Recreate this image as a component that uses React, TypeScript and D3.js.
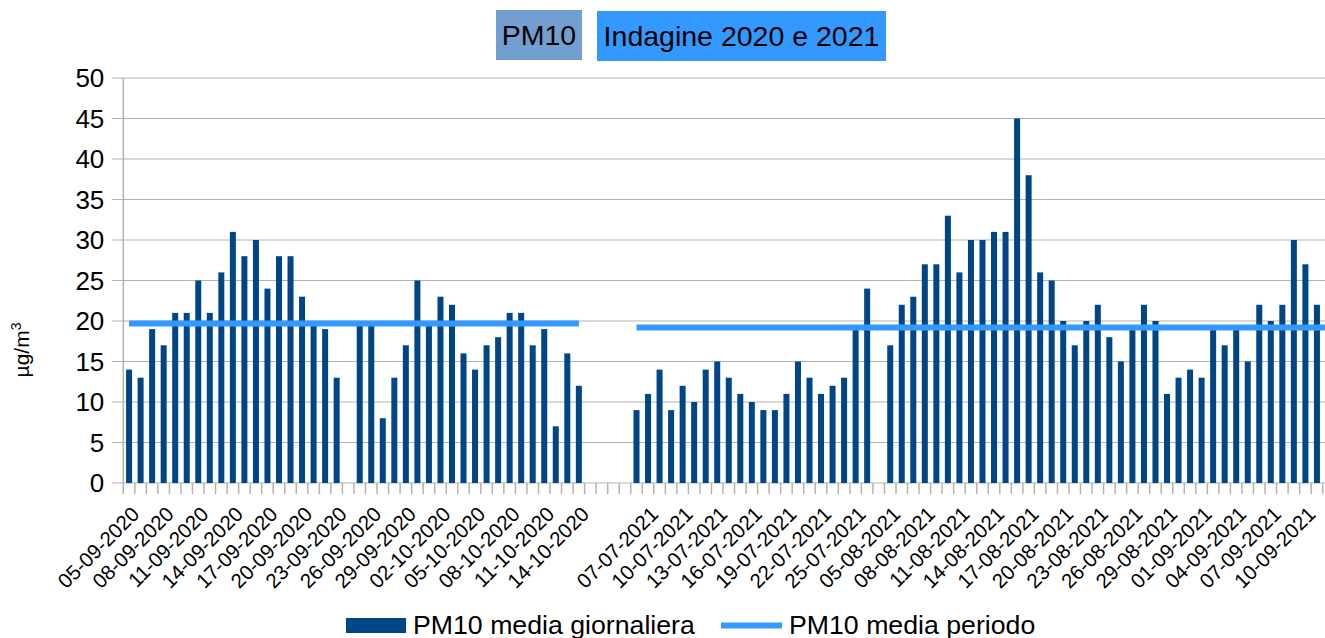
import { useEffect, useRef } from "react";
import * as d3 from "d3";

// category labels (one per day, "" = empty slot in the chart)
const dates2020 = [
  "05-09-2020", "06-09-2020", "07-09-2020", "08-09-2020", "09-09-2020", "10-09-2020",
  "11-09-2020", "12-09-2020", "13-09-2020", "14-09-2020", "15-09-2020", "16-09-2020",
  "17-09-2020", "18-09-2020", "19-09-2020", "20-09-2020", "21-09-2020", "22-09-2020",
  "23-09-2020", "24-09-2020", "25-09-2020", "26-09-2020", "27-09-2020", "28-09-2020",
  "29-09-2020", "30-09-2020", "01-10-2020", "02-10-2020", "03-10-2020", "04-10-2020",
  "05-10-2020", "06-10-2020", "07-10-2020", "08-10-2020", "09-10-2020", "10-10-2020",
  "11-10-2020", "12-10-2020", "13-10-2020", "14-10-2020",
];
const gapSlots = ["", "", "", ""];
const dates2021 = [
  "06-07-2021", "07-07-2021", "08-07-2021", "09-07-2021", "10-07-2021", "11-07-2021",
  "12-07-2021", "13-07-2021", "14-07-2021", "15-07-2021", "16-07-2021", "17-07-2021",
  "18-07-2021", "19-07-2021", "20-07-2021", "21-07-2021", "22-07-2021", "23-07-2021",
  "24-07-2021", "25-07-2021", "26-07-2021", "04-08-2021", "05-08-2021", "06-08-2021",
  "07-08-2021", "08-08-2021", "09-08-2021", "10-08-2021", "11-08-2021", "12-08-2021",
  "13-08-2021", "14-08-2021", "15-08-2021", "16-08-2021", "17-08-2021", "18-08-2021",
  "19-08-2021", "20-08-2021", "21-08-2021", "22-08-2021", "23-08-2021", "24-08-2021",
  "25-08-2021", "26-08-2021", "27-08-2021", "28-08-2021", "29-08-2021", "30-08-2021",
  "31-08-2021", "01-09-2021", "02-09-2021", "03-09-2021", "04-09-2021", "05-09-2021",
  "06-09-2021", "07-09-2021", "08-09-2021", "09-09-2021", "10-09-2021", "11-09-2021",
];

// PM10 media giornaliera (µg/m³), null = no data
const daily2020 = [
  14, 13, 19, 17, 21, 21, 25, 21, 26, 31, 28, 30, 24, 28, 28, 23, 20, 19, 13, null,
  20, 20, 8, 13, 17, 25, 20, 23, 22, 16, 14, 17, 18, 21, 21, 17, 19, 7, 16, 12,
];
const dailyGap = [null, null, null, null];
const daily2021 = [
  9, 11, 14, 9, 12, 10, 14, 15, 13, 11, 10, 9, 9, 11, 15, 13, 11, 12, 13, 19, 24, null,
  17, 22, 23, 27, 27, 33, 26, 30, 30, 31, 31, 45, 38, 26, 25, 20, 17, 20, 22, 18, 15,
  19, 22, 20, 11, 13, 14, 13, 19, 17, 19, 15, 22, 20, 22, 30, 27, 22,
];

// PM10 media periodo
const periodMeans = [19.7, 19.2];

const yTicks = [0, 5, 10, 15, 20, 25, 30, 35, 40, 45, 50];
const labelEvery = 3;

const FONT = "'Liberation Sans', Arial, sans-serif";
const BAR = "#004586";
const LINE = "#3399ff";
const GRID = "#b3b3b3";

export default function App() {
  const svgRef = useRef<SVGSVGElement>(null);

  useEffect(() => {
    const svg = d3.select(svgRef.current);
    svg.selectAll("*").remove();

    const width = 1325;
    const left = 123.3;
    const right = 1322.7;
    const top = 78;
    const bottom = 483;

    const labels = [...dates2020, ...gapSlots, ...dates2021];
    const values = [...daily2020, ...dailyGap, ...daily2021];
    const idx = d3.range(labels.length);

    const x = d3.scaleBand<number>().domain(idx).range([left, right]).padding(0);
    const y = d3.scaleLinear().domain([0, 50]).range([bottom, top]);
    const step = x.step();
    const barW = step * 0.52;
    const cx = (i: number) => x(i)! + step / 2;

    // grid + y ticks
    svg
      .append("g")
      .selectAll("line")
      .data(yTicks)
      .join("line")
      .attr("x1", left - 11)
      .attr("x2", width)
      .attr("y1", (d) => y(d))
      .attr("y2", (d) => y(d))
      .attr("stroke", GRID)
      .attr("stroke-width", 1);

    svg
      .append("g")
      .selectAll("text")
      .data(yTicks)
      .join("text")
      .attr("x", left - 19)
      .attr("y", (d) => y(d))
      .attr("dy", "0.36em")
      .attr("text-anchor", "end")
      .attr("font-family", FONT)
      .attr("font-size", 26)
      .attr("fill", "#000")
      .text((d) => d);

    // y axis line
    svg
      .append("line")
      .attr("x1", left)
      .attr("x2", left)
      .attr("y1", top)
      .attr("y2", bottom + 11)
      .attr("stroke", GRID)
      .attr("stroke-width", 1.5);

    // x ticks at category boundaries
    svg
      .append("g")
      .selectAll("line")
      .data(d3.range(1, labels.length + 1))
      .join("line")
      .attr("x1", (i) => left + i * step)
      .attr("x2", (i) => left + i * step)
      .attr("y1", bottom)
      .attr("y2", bottom + 11)
      .attr("stroke", GRID)
      .attr("stroke-width", 1.5);

    // bars
    svg
      .append("g")
      .selectAll("rect")
      .data(idx.filter((i) => values[i] != null))
      .join("rect")
      .attr("x", (i) => cx(i) - barW / 2)
      .attr("y", (i) => y(values[i] as number))
      .attr("width", barW)
      .attr("height", (i) => y(0) - y(values[i] as number))
      .attr("fill", BAR);

    // period mean lines
    const n20 = dates2020.length;
    const start21 = n20 + gapSlots.length;
    const segments = [
      { v: periodMeans[0], x1: cx(0), x2: cx(n20 - 1) },
      { v: periodMeans[1], x1: cx(start21), x2: width },
    ];
    svg
      .append("g")
      .selectAll("line")
      .data(segments)
      .join("line")
      .attr("x1", (d) => d.x1)
      .attr("x2", (d) => d.x2)
      .attr("y1", (d) => y(d.v))
      .attr("y2", (d) => y(d.v))
      .attr("stroke", LINE)
      .attr("stroke-width", 6);

    // x labels, every third category, rotated 45°
    svg
      .append("g")
      .selectAll("text")
      .data(idx.filter((i) => i % labelEvery === 0 && labels[i] !== ""))
      .join("text")
      .attr("transform", (i) => `translate(${cx(i) + 1},${bottom + 22}) rotate(-45)`)
      .attr("dy", "0.72em")
      .attr("text-anchor", "end")
      .attr("font-family", FONT)
      .attr("font-size", 20.5)
      .attr("fill", "#000")
      .text((i) => labels[i]);

    // y axis title
    const yt = svg
      .append("text")
      .attr("transform", `translate(29,350) rotate(-90)`)
      .attr("text-anchor", "middle")
      .attr("font-family", FONT)
      .attr("font-size", 21)
      .attr("fill", "#000");
    yt.append("tspan").text("µg/m");
    yt.append("tspan").attr("font-size", 14).attr("dy", "-0.6em").text("3");

    // title boxes
    const titles = [
      { text: "PM10", x: 496, w: 86, y: 10, fill: "#729fcf" },
      { text: "Indagine 2020 e 2021", x: 597, w: 289, y: 11, fill: "#3399ff" },
    ];
    const tg = svg.append("g").selectAll("g").data(titles).join("g");
    tg.append("rect")
      .attr("x", (d) => d.x)
      .attr("y", (d) => d.y)
      .attr("width", (d) => d.w)
      .attr("height", 50)
      .attr("fill", (d) => d.fill);
    tg.append("text")
      .attr("x", (d) => d.x + d.w / 2)
      .attr("y", (d) => d.y + 35)
      .attr("text-anchor", "middle")
      .attr("font-family", FONT)
      .attr("font-size", 28.5)
      .attr("fill", "#000")
      .text((d) => d.text);

    // legend
    const lg = svg.append("g").attr("font-family", FONT).attr("font-size", 26.7);
    lg.append("rect").attr("x", 346).attr("y", 618).attr("width", 60).attr("height", 15).attr("fill", BAR);
    lg.append("text").attr("x", 413).attr("y", 634).text("PM10 media giornaliera");
    lg.append("line")
      .attr("x1", 721)
      .attr("x2", 782)
      .attr("y1", 625.5)
      .attr("y2", 625.5)
      .attr("stroke", LINE)
      .attr("stroke-width", 6);
    lg.append("text").attr("x", 789).attr("y", 634).text("PM10 media periodo");
  }, []);

  return (
    <svg
      ref={svgRef}
      width={1325}
      height={638}
      style={{ position: "absolute", left: 0, top: 0, background: "#fff" }}
    ></svg>
  );
}
